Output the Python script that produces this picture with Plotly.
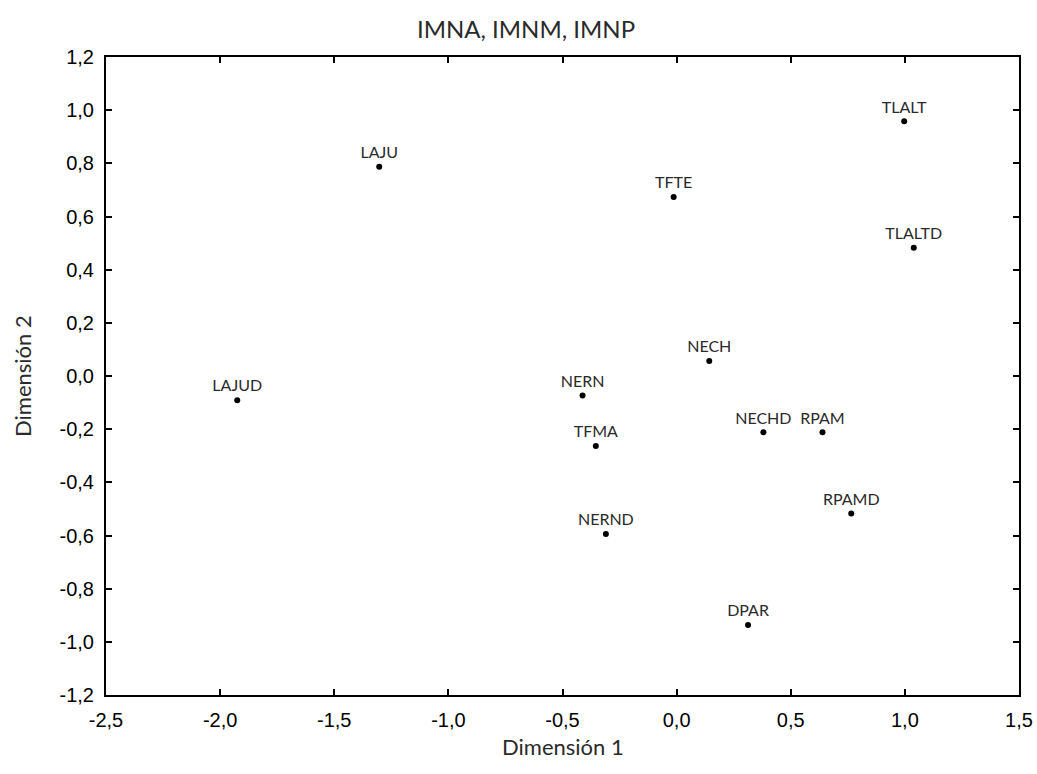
import plotly.graph_objects as go

labels = ["LAJU", "LAJUD", "TFTE", "TLALT", "TLALTD", "NECH", "NERN",
          "TFMA", "NECHD", "RPAM", "RPAMD", "NERND", "DPAR"]
dim1 = [-1.303, -1.925, -0.013, 0.997, 1.039, 0.143, -0.412,
        -0.354, 0.380, 0.639, 0.765, -0.310, 0.313]
dim2 = [0.787, -0.091, 0.673, 0.958, 0.482, 0.056, -0.073,
        -0.263, -0.212, -0.212, -0.517, -0.594, -0.937]

x_ticks = [-2.5, -2.0, -1.5, -1.0, -0.5, 0.0, 0.5, 1.0, 1.5]
y_ticks = [1.2, 1.0, 0.8, 0.6, 0.4, 0.2, 0.0, -0.2, -0.4, -0.6, -0.8, -1.0, -1.2]

def fmt(v):
    return f"{v:.1f}".replace(".", ",")

fig = go.Figure()
fig.add_trace(go.Scatter(
    x=dim1, y=dim2, mode="markers+text", text=labels,
    textposition="top center",
    textfont=dict(family="Lato", size=16, color="#2a2a2a"),
    marker=dict(color="black", size=6),
    showlegend=False, cliponaxis=False,
))

axis_common = dict(
    showgrid=False, zeroline=False, showline=True, linecolor="black",
    linewidth=2, mirror="ticks", ticks="inside", ticklen=6, tickwidth=1.5,
    tickcolor="black", automargin=False, ticklabelstandoff=6,
    tickfont=dict(family="Liberation Sans, Arial", size=20, color="black"),
)

fig.update_xaxes(range=[-2.5, 1.5], tickvals=x_ticks,
                 ticktext=[fmt(v) for v in x_ticks], **axis_common)
fig.update_yaxes(range=[-1.2, 1.2], tickvals=y_ticks,
                 ticktext=[fmt(v) for v in y_ticks], **axis_common)

title_font = dict(family="Lato", size=22, color="#2a2a2a")
fig.add_annotation(text="Dimensión 1", xref="paper", yref="paper",
                   x=0.5, y=-(747 - 695.3) / 638.6, xanchor="center",
                   yanchor="middle", showarrow=False, font=title_font)
fig.add_annotation(text="Dimensión 2", xref="paper", yref="paper",
                   x=-(106 - 22) / 913, y=0.5, xanchor="center",
                   yanchor="middle", textangle=-90, showarrow=False,
                   font=title_font)

fig.update_layout(
    width=1037, height=774,
    margin=dict(l=106, r=18, t=57, b=79),
    plot_bgcolor="white", paper_bgcolor="white",
    title=dict(text="IMNA, IMNM, IMNP", x=526 / 1037, xanchor="center",
               y=1 - 30 / 774, yanchor="middle", xref="container",
               yref="container",
               font=dict(family="Lato", size=24, color="#2a2a2a")),
)

fig.write_html("out.html")
